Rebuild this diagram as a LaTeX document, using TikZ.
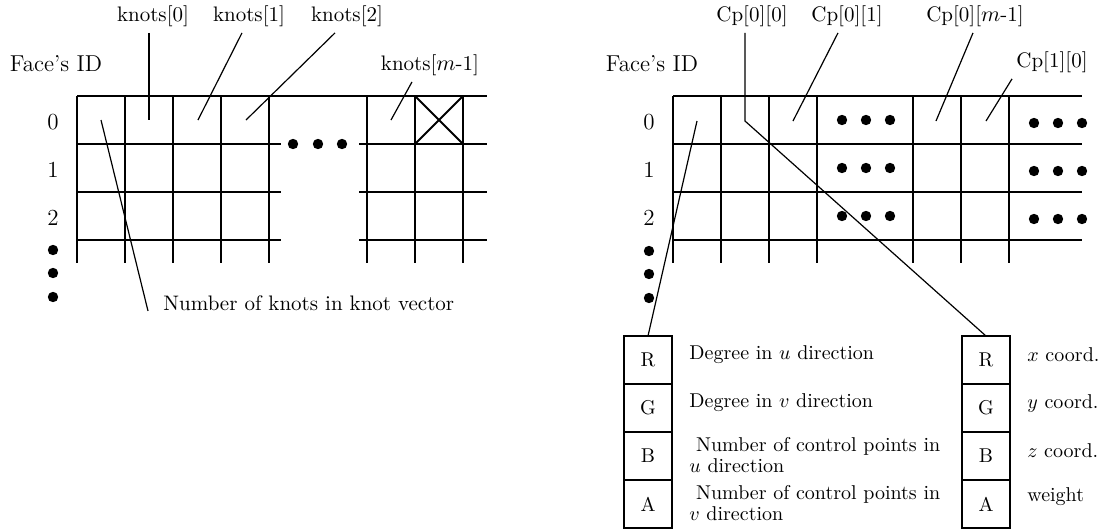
\documentclass[tikz,border=0pt]{standalone}
\usepackage{amsmath,amssymb}
\usepackage{tikz}
\usetikzlibrary{positioning,calc}

\begin{document}
\begin{tikzpicture}[
  x=0.5pt, y=-0.5pt,
  grd/.style={line width=1pt},
  ld/.style={line width=0.6pt},
  lb/.style={inner sep=3pt, font=\fontsize{10.5}{12}\selectfont},
  rid/.style={inner sep=3pt, font=\fontsize{11.5}{13}\selectfont},
  txt/.style={anchor=west, inner sep=3pt, align=left, font=\fontsize{10}{10.5}\selectfont},
  cell/.style={draw, line width=1pt, minimum size=24pt, inner sep=0pt, outer sep=0pt},
  dt/.style={fill=black}
]
\useasboundingbox (0,0) rectangle (1100,531);
% knot vector table
\begin{scope}
  \node[rid] (fid1) at (56,64) {Face's ID};
  \node[rid] (r10) at (53,122) {0};
  \node[rid] (r11) at (53,170) {1};
  \node[rid] (r12) at (53,218) {2};
  \foreach \y in {250,273,297} \fill[dt] (53,\y) circle (2.6pt);
  \draw[grd] (77,96) -- (487,96);
  \foreach \y in {144,192,240} {
    \draw[grd] (77,\y) -- (281,\y);
    \draw[grd] (359,\y) -- (487,\y);
  }
  \foreach \x in {77,125,173,221,269,367,415,463} \draw[grd] (\x,96) -- (\x,263);
  \draw[grd] (415,96) -- (463,144) (415,144) -- (463,96);
  \foreach \x in {293,318,342} \fill[dt] (\x,144) circle (2.6pt);
  \node[lb] (k0) at (153,16) {knots[0]};
  \node[lb] (k1) at (249,16) {knots[1]};
  \node[lb] (k2) at (347,16) {knots[2]};
  \node[lb] (km) at (430,65) {knots[$m$-1]};
  \node[lb, anchor=west] (nk) at (157,303) {Number of knots in knot vector};
  \coordinate (q0) at (149,120);
  \coordinate (q1) at (198,120);
  \coordinate (q2) at (246,120);
  \coordinate (qm) at (391,120);
  \coordinate (qn) at (101,120);
  \draw[ld] ([xshift=-2pt]k0.south) -- (q0);
  \draw[ld] ([xshift=-3.5pt]k1.south) -- (q1);
  \draw[ld] ([xshift=-6pt]k2.south) -- (q2);
  \draw[ld] ([xshift=-9pt]km.south) -- (qm);
  \draw[ld] (qn) -- ([xshift=-4.5pt,yshift=3pt]nk.south west);
\end{scope}
% control point table
\begin{scope}
  \node[rid] (fid2) at (652,64) {Face's ID};
  \node[rid] (r20) at (649,122) {0};
  \node[rid] (r21) at (649,170) {1};
  \node[rid] (r22) at (649,218) {2};
  \foreach \y in {251,274,298} \fill[dt] (649,\y) circle (2.6pt);
  \foreach \y in {96,144,192,240} \draw[grd] (673,\y) -- (1082,\y);
  \foreach \x in {673,721,769,817,913,961,1009} \draw[grd] (\x,96) -- (\x,263);
  \foreach \y in {120,168,216} {
    \foreach \x in {842,866,890} \fill[dt] (\x,\y) circle (2.6pt);
    \foreach \x in {1034,1058,1082} \fill[dt] (\x,\y+3) circle (2.6pt);
  }
  \node[lb] (cp00) at (752,16) {Cp[0][0]};
  \node[lb] (cp01) at (847,16) {Cp[0][1]};
  \node[lb] (cp0m) at (975,16) {Cp[0][$m$-1]};
  \node[lb] (cp10) at (1052,62) {Cp[1][0]};
  % RGBA texel boxes
  \node[cell] (lR) at (648,360) {R};
  \node[cell, below=0pt of lR] (lG) {G};
  \node[cell, below=0pt of lG] (lB) {B};
  \node[cell, below=0pt of lB] (lA) {A};
  \node[cell] (rR) at (986,360) {R};
  \node[cell, below=0pt of rR] (rG) {G};
  \node[cell, below=0pt of rG] (rB) {B};
  \node[cell, below=0pt of rB] (rA) {A};
  \node[txt] (tR) at (683,355) {Degree in $u$ direction};
  \node[txt] (tG) at (683,403) {Degree in $v$ direction};
  \node[txt] (tB) at (683,455) {\ Number of control points in\\$u$ direction};
  \node[txt] (tA) at (683,503) {\ Number of control points in\\$v$ direction};
  \node[txt] (xR) at (1021,355) {$x$ coord.};
  \node[txt] (xG) at (1021,403) {$y$ coord.};
  \node[txt] (xB) at (1021,451) {$z$ coord.};
  \node[txt] (xA) at (1021,497) {weight};
  \coordinate (p00) at (745,121);
  \coordinate (p01) at (793,121);
  \coordinate (p0m) at (936,121);
  \coordinate (p10) at (986,121);
  \coordinate (pl) at (697,121);
  \draw[ld] ([xshift=-3.5pt]cp00.south) -- (p00) -- (rR.north);
  \draw[ld] ([xshift=-4.5pt]cp01.south) -- (p01);
  \draw[ld] ([xshift=-1pt]cp0m.south) -- (p0m);
  \draw[ld] ([xshift=1pt]cp10.south west) -- (p10);
  \draw[ld] (pl) -- (lR.north);
\end{scope}
\end{tikzpicture}
\end{document}
